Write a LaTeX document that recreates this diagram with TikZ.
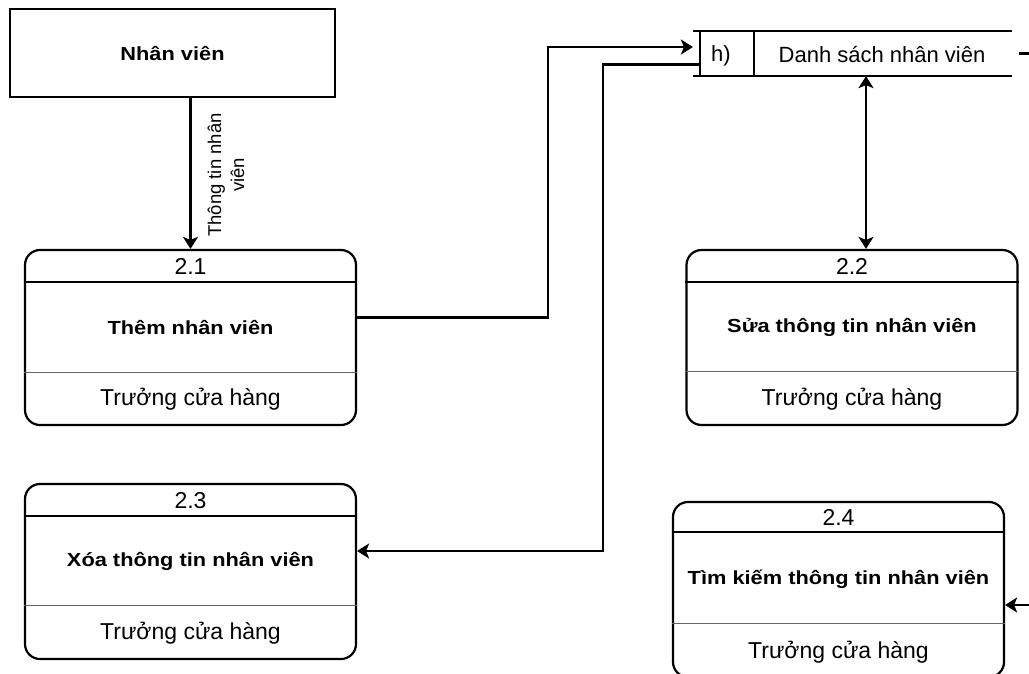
\documentclass[tikz,border=0pt]{standalone}
\usepackage{graphicx}
\usepackage{fontspec}
\setmainfont{Liberation Sans}
\usetikzlibrary{arrows.meta,calc}
\newcommand\fsznorm{\fontsize{23}{27}\selectfont}
\newcommand\fszstore{\fontsize{22}{26}\selectfont}
\newcommand\fszlab{\fontsize{18.5}{23}\selectfont}
\newcommand\boldtxt[1]{\scalebox{1}[0.87]{\fontsize{21.8}{25}\selectfont\bfseries #1}}
\begin{document}
\begin{tikzpicture}[x=1pt,y=-1pt,line width=2.2pt,
  arr/.style={-{Stealth[length=12pt,width=15pt,inset=3pt]},line width=2.2pt},
  dblarr/.style={{Stealth[length=12pt,width=15pt,inset=3pt]}-{Stealth[length=12pt,width=15pt,inset=3pt]},line width=2.2pt},
  procbox/.style={draw,line width=2.2pt,rounded corners=15pt,minimum width=331pt,minimum height=175pt,inner sep=0pt},
  entbox/.style={draw,line width=2.2pt,minimum width=325pt,minimum height=88pt,inner sep=0pt},
  txt/.style={inner sep=0pt,font=\fsznorm,text height=17pt,text depth=5pt},
  ttl/.style={inner sep=0pt},
  hdr/.style={line width=2.2pt},
  sep/.style={line width=1pt,black!60}
]
\useasboundingbox (0,0) rectangle (1029,673);
\clip (0,0) rectangle (1029,673);

% external entity
\node[entbox] (nv) at (172.5,53) {};
\node[ttl] (nvt) at ($(nv.center)+(0,1)$) {\boldtxt{Nhân viên}};

% process boxes
\node[procbox] (p1) at (190.5,337.5) {};
\node[procbox] (p2) at (852,337.5) {};
\node[procbox] (p3) at (190.5,571.5) {};
\node[procbox] (p4) at (838.5,589.5) {};

\draw[hdr] ($(p1.north west)+(0,33)$) -- ($(p1.north east)+(0,33)$);
\draw[sep] ($(p1.north west)+(0,123.5)$) -- ($(p1.north east)+(0,123.5)$);
\draw[hdr] ($(p2.north west)+(0,33)$) -- ($(p2.north east)+(0,33)$);
\draw[sep] ($(p2.north west)+(0,123)$) -- ($(p2.north east)+(0,123)$);
\draw[hdr] ($(p3.north west)+(0,33)$) -- ($(p3.north east)+(0,33)$);
\draw[sep] ($(p3.north west)+(0,123)$) -- ($(p3.north east)+(0,123)$);
\draw[hdr] ($(p4.north west)+(0,31)$) -- ($(p4.north east)+(0,31)$);
\draw[sep] ($(p4.north west)+(0,123)$) -- ($(p4.north east)+(0,123)$);

\node[txt] (p1n) at ($(p1.north)+(0,20)$) {2.1};
\node[ttl] (p1t) at ($(p1.north)+(0,79)$) {\boldtxt{Thêm nhân viên}};
\node[txt] (p1r) at ($(p1.north)+(0,151)$) {Trưởng cửa hàng};

\node[txt] (p2n) at ($(p2.north)+(0,20)$) {2.2};
\node[ttl] (p2t) at ($(p2.north)+(0,79)$) {\boldtxt{Sửa thông tin nhân viên}};
\node[txt] (p2r) at ($(p2.north)+(0,151)$) {Trưởng cửa hàng};

\node[txt] (p3n) at ($(p3.north)+(0,20)$) {2.3};
\node[ttl] (p3t) at ($(p3.north)+(0,79)$) {\boldtxt{Xóa thông tin nhân viên}};
\node[txt] (p3r) at ($(p3.north)+(0,151)$) {Trưởng cửa hàng};

\node[txt] (p4n) at ($(p4.north)+(0,19)$) {2.4};
\node[ttl] (p4t) at ($(p4.north)+(0,78)$) {\boldtxt{Tìm kiếm thông tin nhân viên}};
\node[txt] (p4r) at ($(p4.north)+(0,152)$) {Trưởng cửa hàng};

% data store
\node[minimum width=317pt,minimum height=43pt,inner sep=0pt] (ds) at (852.5,53.5) {};
\draw[line width=2.2pt] (ds.north west) -- (ds.north east);
\draw[line width=2.2pt] (ds.south west) -- (ds.south east);
\draw[line width=2.2pt] ($(ds.north west)+(7,0)$) -- ($(ds.south west)+(7,0)$);
\draw[line width=2.2pt] ($(ds.north west)+(61,0)$) -- ($(ds.south west)+(61,0)$);
\node[inner sep=0pt,font=\fszstore] (dsid) at (721,55.5) {h)};
\node[inner sep=0pt,font=\fszstore] (dsname) at (882,55) {Danh sách nhân viên};

% connectors
\draw[arr] (p1.north |- nv.south) -- (p1.north);
\node[inner sep=0pt,font=\fszlab,align=center,rotate=90] (lab) at (226,175) {Thông tin nhân\\viên};

\coordinate (dsin) at ($(ds.west)+(0,-6.5)$);
\coordinate (b1) at (548,47);
\draw[arr] ($(p1.east)+(0,-20)$) -| (b1) -- (dsin);

\coordinate (dsout) at ($(ds.west)+(7,11)$);
\coordinate (b2) at (603,64.5);
\draw[arr] (dsout) -- (b2) |- ($(p3.east)+(0,-20.5)$);

\draw[dblarr] ($(ds.south)+(13.5,0)$) -- ($(p2.north)+(14,0)$);

\coordinate (b3) at (1045,53.5);
\draw[arr] ($(ds.east)+(7,0)$) -- (b3) |- ($(p4.east)+(0,15.5)$);
\end{tikzpicture}
\end{document}
